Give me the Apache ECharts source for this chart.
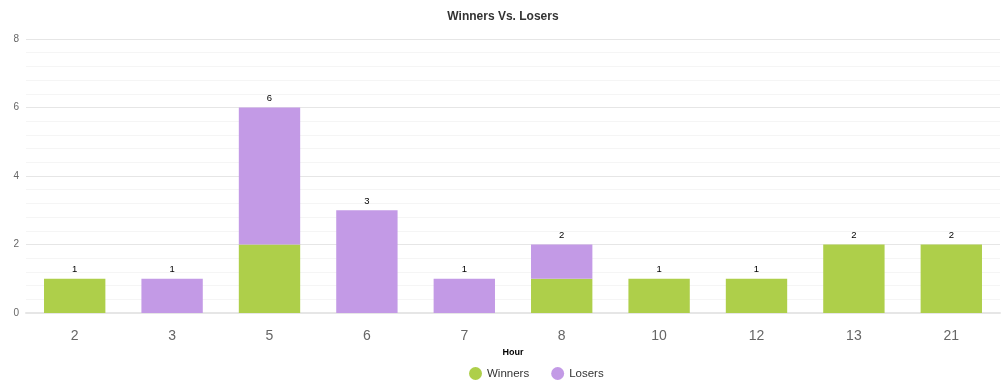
<!DOCTYPE html>
<html><head><meta charset="utf-8">
<script src="https://cdn.jsdelivr.net/npm/echarts@6/dist/echarts.min.js"></script>
<style>html,body{margin:0;padding:0;background:#fff}#c{width:1006px;height:391px}</style>
</head><body><div id="c"></div>
<script>
const categories = ['2','3','5','6','7','8','10','12','13','21'];
const winners = [1,0,2,0,0,1,1,1,2,2];
const losers = [0,1,4,3,1,1,0,0,0,0];
const yTicks = [0,2,4,6,8];
const totals = categories.map((c,i)=>winners[i]+losers[i]);

const chart = echarts.init(document.getElementById('c'));
chart.setOption({
  animation:false,
  title:{text:'Winners Vs. Losers',left:'center',top:6,textStyle:{fontFamily:'Arial, Liberation Sans, sans-serif',fontSize:12,fontWeight:'bold',color:'#333'}},
  legend:{data:['Winners','Losers'],bottom:6,left:464,icon:'circle',itemWidth:13,itemHeight:13,itemGap:22,textStyle:{fontFamily:'Arial, Liberation Sans, sans-serif',fontSize:11.5,color:'#333'}},
  grid:{left:26,right:6,top:39,bottom:78},
  xAxis:{type:'category',data:categories,name:'Hour',nameLocation:'middle',nameGap:35,
    nameTextStyle:{fontFamily:'Arial, Liberation Sans, sans-serif',fontSize:9,fontWeight:'bold',color:'#000'},
    axisLine:{lineStyle:{color:'#e6e6e6',width:2}},axisTick:{show:false},
    axisLabel:{fontFamily:'Arial, Liberation Sans, sans-serif',fontSize:14,color:'#666',margin:16}},
  yAxis:{type:'value',min:yTicks[0],max:yTicks[yTicks.length-1],interval:2,
    axisLabel:{fontFamily:'Arial, Liberation Sans, sans-serif',fontSize:10,color:'#666',margin:7},
    splitLine:{lineStyle:{color:'#e6e6e6',width:1}},
    minorTick:{show:false,splitNumber:5},
    minorSplitLine:{show:true,lineStyle:{color:'#f5f5f5',width:1}}},
  series:[
    {name:'Winners',type:'bar',stack:'a',data:winners,barWidth:'63%',itemStyle:{color:'#AECF4A'}},
    {name:'Losers',type:'bar',stack:'a',data:losers,itemStyle:{color:'#C39AE6'}},
    {name:'total',type:'bar',stack:'a',data:categories.map(()=>0),
      label:{show:true,position:'top',distance:4,fontFamily:'Arial, Liberation Sans, sans-serif',fontSize:9.5,color:'#000',
        formatter:p=>totals[p.dataIndex]}}
  ]
});
</script></body></html>
